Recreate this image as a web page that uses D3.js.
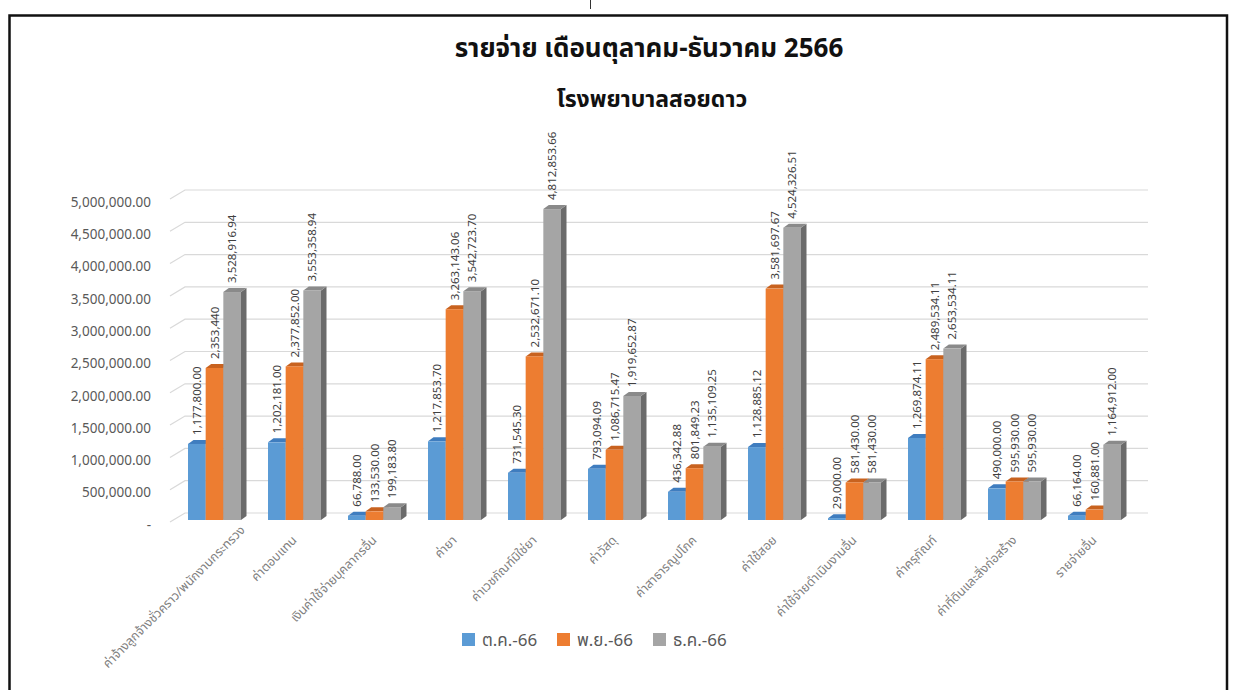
<!DOCTYPE html>
<html>
<head>
<meta charset="utf-8">
<script src="https://cdn.jsdelivr.net/npm/d3@7"></script>
<style>
  body { margin: 0; background: #fff; }
  svg { display: block; }
  text { font-family: "Noto Sans Thai", "Tahoma", "Loma", "Garuda", "Liberation Sans", sans-serif; }
</style>
</head>
<body>
<svg width="1235" height="690"></svg>
<script>
const categories = [
  "ค่าจ้างลูกจ้างชั่วคราว/พนักงานกระทรวง",
  "ค่าตอบแทน",
  "เงินค่าใช้จ่ายบุคลากรอื่น",
  "ค่ายา",
  "ค่าเวชภัณฑ์มิใช่ยา",
  "ค่าวัสดุ",
  "ค่าสาธารณูปโภค",
  "ค่าใช้สอย",
  "ค่าใช้จ่ายดำเนินงานอื่น",
  "ค่าครุภัณฑ์",
  "ค่าที่ดินและสิ่งก่อสร้าง",
  "รายจ่ายอื่น"
];
const seriesNames = ["ต.ค.-66", "พ.ย.-66", "ธ.ค.-66"];
const octValues = [1177800.00, 1202181.00, 66788.00, 1217853.70, 731545.30, 793094.09, 436342.88, 1128885.12, 29000.00, 1269874.11, 490000.00, 66164.00];
const novValues = [2353440, 2377852.00, 133530.00, 3263143.06, 2532671.10, 1086715.47, 801849.23, 3581697.67, 581430.00, 2489534.11, 595930.00, 160881.00];
const decValues = [3528916.94, 3553358.94, 199183.80, 3542723.70, 4812853.66, 1919652.87, 1135109.25, 4524326.51, 581430.00, 2653534.11, 595930.00, 1164912.00];
// label text as printed (nov of first group has no decimals)
const novLabels = ["2,353,440"];
const yTicks = [0, 500000, 1000000, 1500000, 2000000, 2500000, 3000000, 3500000, 4000000, 4500000, 5000000];

const series = [octValues, novValues, decValues];
const faceColours = ["#5b9bd5", "#ed7d31", "#a5a5a5"];
const topColours = ["#3f7dbf", "#c8621f", "#8a8a8a"];
const sideColours = ["#41719c", "#ae5a21", "#6b6b6b"];

const svg = d3.select('svg');

// frame of the original sheet
svg.append('line').attr('x1', 590.5).attr('x2', 590.5).attr('y1', 0).attr('y2', 9).attr('stroke', '#333').attr('stroke-width', 1);
svg.append('path')
  .attr('d', 'M9.5,690 V15.5 H1227 V690')
  .attr('fill', 'none').attr('stroke', '#111').attr('stroke-width', 2.5);

// title
svg.append('text').attr('x', 649).attr('y', 57).attr('text-anchor', 'middle')
  .attr('font-size', 26).attr('font-weight', 'bold').attr('fill', '#111')
  .text('รายจ่าย เดือนตุลาคม-ธันวาคม 2566');
svg.append('text').attr('x', 652).attr('y', 107).attr('text-anchor', 'middle')
  .attr('font-size', 23).attr('font-weight', 'bold').attr('fill', '#111')
  .text('โรงพยาบาลสอยดาว');

const y = d3.scaleLinear().domain([0, 5000000]).range([520, 197]);
const x = d3.scaleBand().domain(categories).range([174.5, 1134.5]);
const xs = d3.scaleBand().domain(d3.range(3)).range([-26.5, 26.5]);

const wallDx = 15, wallDy = -9;
const depthX = 5.5, depthY = -4;

// gridlines (floor / back wall)
let grid = svg.append('g').attr('stroke', '#d9d9d9').attr('stroke-width', 1.2).attr('fill', 'none');
grid.selectAll('path')
  .data(yTicks)
  .enter()
  .append('path')
  .attr('d', function(d){
    let y0 = y(d) + 2;
    return 'M170,' + y0 + ' L' + (170 + wallDx) + ',' + (y0 + wallDy) + ' H1148';
  });

// y axis labels
const fmt = d3.format(',.2f');
svg.append('g').selectAll('text')
  .data(yTicks)
  .enter()
  .append('text')
  .attr('x', 151)
  .attr('y', function(d){ return y(d) + 5; })
  .attr('dy', '0.35em')
  .attr('text-anchor', 'end')
  .attr('font-family', '"Liberation Sans", Arial, sans-serif')
  .attr('font-size', 13.5)
  .attr('fill', '#595959')
  .text(function(d){ return d === 0 ? '-' : fmt(d); });

// bars
let bars = [];
categories.forEach(function(c, i){
  series.forEach(function(vals, s){
    bars.push({cat: c, i: i, s: s, value: vals[i]});
  });
});

let barG = svg.append('g');
bars.forEach(function(b){
  let x0 = x(b.cat) + x.bandwidth() / 2 + xs(b.s);
  let w = xs.bandwidth();
  let yt = y(b.value), yb = y(0);
  let g = barG.append('g');
  g.append('path')
    .attr('fill', sideColours[b.s])
    .attr('d', 'M' + (x0 + w) + ',' + yb + ' L' + (x0 + w + depthX) + ',' + (yb + depthY) +
      ' V' + (yt + depthY) + ' L' + (x0 + w) + ',' + yt + 'Z');
  g.append('path')
    .attr('fill', topColours[b.s])
    .attr('d', 'M' + x0 + ',' + yt + ' L' + (x0 + depthX) + ',' + (yt + depthY) +
      ' H' + (x0 + w + depthX) + ' L' + (x0 + w) + ',' + yt + 'Z');
  g.append('rect')
    .attr('x', x0).attr('y', yt)
    .attr('width', w).attr('height', yb - yt)
    .attr('fill', faceColours[b.s]);
});

// data labels
svg.append('g').selectAll('text')
  .data(bars)
  .enter()
  .append('text')
  .attr('transform', function(d){
    let cx = x(d.cat) + x.bandwidth() / 2 + xs(d.s) + xs.bandwidth() / 2 + 4;
    return 'translate(' + cx + ',' + (y(d.value) - 9) + ') rotate(-90)';
  })
  .attr('font-family', '"Liberation Sans", Arial, sans-serif')
  .attr('font-size', 11.5)
  .attr('fill', '#404040')
  .text(function(d){
    if (d.s === 1 && d.i < novLabels.length) return novLabels[d.i];
    return fmt(d.value);
  });

// category labels, pushed right when they would run past the chart's left edge
let catLabels = svg.append('g').selectAll('text')
  .data(categories)
  .enter()
  .append('text')
  .attr('text-anchor', 'end')
  .attr('font-size', 12.5)
  .attr('fill', '#7f7f7f')
  .text(function(d){ return d; });

catLabels.attr('transform', function(d){
  let len = this.getComputedTextLength();
  let ax = x(d) + x.bandwidth() / 2 + 3;
  let ay = 541;
  let minLeft = 108;
  let left = ax - len * Math.SQRT1_2;
  if (left < minLeft) {
    let shift = minLeft - left;
    ax += shift;
    ay -= Math.min(shift, 10);
  }
  return 'translate(' + ax + ',' + ay + ') rotate(-45)';
});

// legend
const legendX = [462, 557, 653];
let legend = svg.append('g').selectAll('g')
  .data(seriesNames)
  .enter()
  .append('g')
  .attr('transform', function(d, i){ return 'translate(' + legendX[i] + ',633)'; });
legend.append('rect').attr('width', 13).attr('height', 13)
  .attr('fill', function(d, i){ return faceColours[i]; });
legend.append('text').attr('x', 20).attr('y', 12.5)
  .attr('font-size', 17).attr('fill', '#595959')
  .text(function(d){ return d; });
</script>
</body>
</html>
